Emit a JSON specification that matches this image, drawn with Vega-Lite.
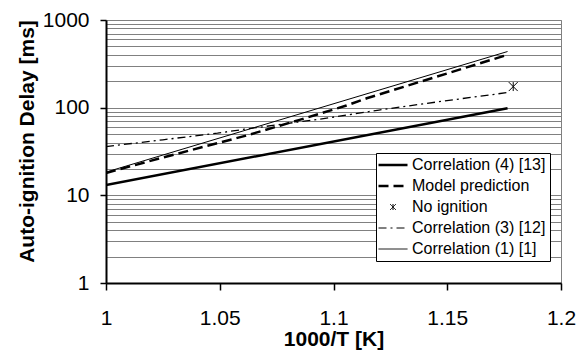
{
  "$schema": "https://vega.github.io/schema/vega-lite/v6.json",
  "width": 455,
  "height": 263,
  "autosize": "none",
  "padding": {"left": 106, "top": 20, "right": 24, "bottom": 71},
  "background": "white",
  "config": {
    "font": "Liberation Sans",
    "view": {"stroke": "#808080", "strokeWidth": 1},
    "axis": {
      "labelFont": "Liberation Sans",
      "titleFont": "Liberation Sans",
      "labelFontSize": 21,
      "titleFontSize": 21,
      "titleFontWeight": "bold",
      "labelColor": "black",
      "titleColor": "black",
      "domainColor": "black",
      "domainWidth": 2,
      "tickColor": "black",
      "tickWidth": 1.5
    }
  },
  "datasets": {
    "lines": [
      {"series": "Correlation (4) [13]", "x": 1.0, "y": 13.1},
      {"series": "Correlation (4) [13]", "x": 1.1765, "y": 98.7},
      {"series": "Model prediction", "x": 1.0, "y": 18},
      {"series": "Model prediction", "x": 1.025, "y": 27},
      {"series": "Model prediction", "x": 1.0617, "y": 48.1},
      {"series": "Model prediction", "x": 1.0851, "y": 72.6},
      {"series": "Model prediction", "x": 1.1057, "y": 105.7},
      {"series": "Model prediction", "x": 1.1146, "y": 128},
      {"series": "Model prediction", "x": 1.1765, "y": 401},
      {"series": "Correlation (3) [12]", "x": 1.0, "y": 36},
      {"series": "Correlation (3) [12]", "x": 1.025, "y": 43},
      {"series": "Correlation (3) [12]", "x": 1.049, "y": 51.2},
      {"series": "Correlation (3) [12]", "x": 1.061, "y": 56.8},
      {"series": "Correlation (3) [12]", "x": 1.08, "y": 66.2},
      {"series": "Correlation (3) [12]", "x": 1.097, "y": 75.9},
      {"series": "Correlation (3) [12]", "x": 1.12, "y": 94},
      {"series": "Correlation (3) [12]", "x": 1.149, "y": 119.6},
      {"series": "Correlation (3) [12]", "x": 1.1765, "y": 148.7},
      {"series": "Correlation (1) [1]", "x": 1.0, "y": 18.4},
      {"series": "Correlation (1) [1]", "x": 1.1765, "y": 437}
    ],
    "points": [
      {"series": "No ignition", "x": 1.179, "y": 174}
    ]
  },
  "encoding": {
    "x": {
      "field": "x", "type": "quantitative",
      "scale": {"domain": [1, 1.2], "nice": false, "zero": false},
      "axis": {
        "title": "1000/T [K]",
        "values": [1, 1.05, 1.1, 1.15, 1.2],
        "format": ".2~f",
        "grid": false,
        "tickSize": 7,
        "labelPadding": 17,
        "titlePadding": 0,
        "labelFlush": false
      }
    },
    "y": {
      "field": "y", "type": "quantitative",
      "scale": {"type": "log", "domain": [1, 1000], "nice": false},
      "axis": {
        "title": "Auto-ignition Delay [ms]",
        "values": [1,2,3,4,5,6,7,8,9,10,20,30,40,50,60,70,80,90,100,200,300,400,500,600,700,800,900,1000],
        "format": "d",
        "labelExpr": "(datum.value == 1 || datum.value == 10 || datum.value == 100 || datum.value == 1000) ? datum.label : ''",
        "grid": true,
        "gridColor": "#808080",
        "gridWidth": 1,
        "tickSize": 6,
        "tickOpacity": {"condition": {"test": "datum.value == 1 || datum.value == 10 || datum.value == 100 || datum.value == 1000", "value": 1}, "value": 0},
        "labelPadding": 11,
        "titlePadding": 5,
        "titleY": 121,
        "labelFlush": false
      }
    },
    "color": {
      "field": "series", "type": "nominal",
      "scale": {
        "domain": ["Correlation (4) [13]", "Model prediction", "No ignition", "Correlation (3) [12]", "Correlation (1) [1]"],
        "range": ["black", "black", "black", "black", "black"]
      },
      "legend": {
        "title": null,
        "orient": "none",
        "legendX": 270,
        "legendY": 133,
        "fillColor": "white",
        "strokeColor": "black",
        "padding": 4,
        "labelFont": "Liberation Sans",
        "labelFontSize": 16,
        "labelColor": "black",
        "labelLimit": 300,
        "labelOffset": 11,
        "symbolOffset": 5,
        "symbolType": "stroke",
        "symbolSize": 841,
        "rowPadding": 5,
        "encode": {
          "symbols": {
            "update": {
              "shape": {"signal": "datum.value === 'No ignition' ? 'M0,-1L0,1M-1,-1L1,1M-1,1L1,-1' : 'stroke'"},
              "size": {"signal": "datum.value === 'No ignition' ? 36 : 841"},
              "strokeDash": {"signal": "datum.value === 'Model prediction' ? [10, 5] : (datum.value === 'Correlation (3) [12]' ? [8, 4, 2, 4] : [1, 0])"},
              "strokeWidth": {"signal": "(datum.value === 'Correlation (4) [13]' || datum.value === 'Model prediction') ? 2.5 : 1"},
              "stroke": {"signal": "datum.value === 'Correlation (1) [1]' ? '#555555' : 'black'"},
              "fill": {"value": "transparent"}
            }
          }
        }
      }
    }
  },
  "layer": [
    {
      "data": {"name": "lines"},
      "transform": [{"filter": "datum.series === 'Correlation (1) [1]'"}],
      "mark": {"type": "line", "strokeWidth": 1, "clip": true}
    },
    {
      "data": {"name": "lines"},
      "transform": [{"filter": "datum.series === 'Correlation (3) [12]'"}],
      "mark": {"type": "line", "strokeWidth": 1.3, "strokeDash": [8, 4, 2, 4], "clip": true}
    },
    {
      "data": {"name": "lines"},
      "transform": [{"filter": "datum.series === 'Model prediction'"}],
      "mark": {"type": "line", "strokeWidth": 2.5, "strokeDash": [10, 5], "clip": true}
    },
    {
      "data": {"name": "lines"},
      "transform": [{"filter": "datum.series === 'Correlation (4) [13]'"}],
      "mark": {"type": "line", "strokeWidth": 2.5, "clip": true}
    },
    {
      "data": {"name": "points"},
      "mark": {"type": "point", "shape": "M0,-1L0,1M-1,-1L1,1M-1,1L1,-1", "size": 80, "filled": false, "strokeWidth": 1, "opacity": 1}
    }
  ]
}
